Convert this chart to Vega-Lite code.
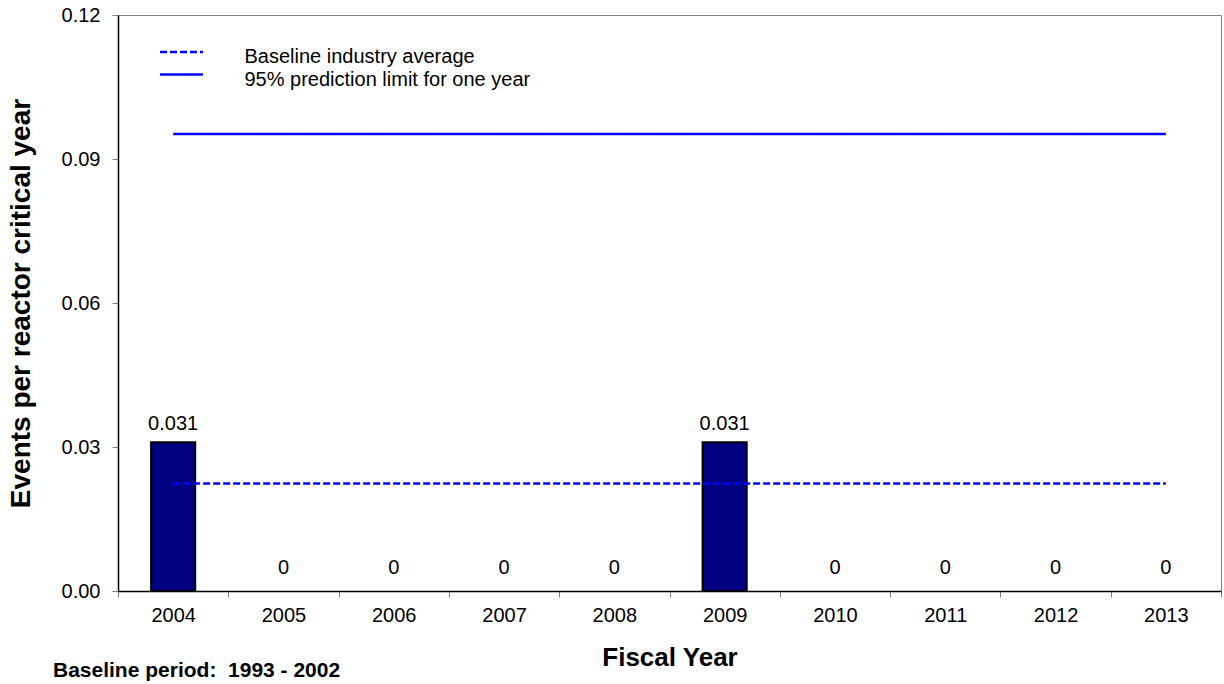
{
  "$schema": "https://vega.github.io/schema/vega-lite/v6.json",
  "width": 1103,
  "height": 576,
  "autosize": {"type": "none"},
  "padding": {"left": 118, "top": 15, "right": 3, "bottom": 93},
  "background": "white",
  "config": {
    "font": "Liberation Sans",
    "view": {"stroke": "#808080", "strokeWidth": 1}
  },
  "title": {
    "text": "Baseline period:\u00a0 1993 - 2002",
    "orient": "bottom",
    "anchor": "start",
    "frame": "group",
    "fontSize": 21,
    "fontWeight": "bold",
    "color": "black",
    "dx": -65,
    "offset": -10
  },
  "datasets": {
    "rates": [
      {"year": "2004", "rate": 0.031, "label": "0.031"},
      {"year": "2005", "rate": 0, "label": "0"},
      {"year": "2006", "rate": 0, "label": "0"},
      {"year": "2007", "rate": 0, "label": "0"},
      {"year": "2008", "rate": 0, "label": "0"},
      {"year": "2009", "rate": 0.031, "label": "0.031"},
      {"year": "2010", "rate": 0, "label": "0"},
      {"year": "2011", "rate": 0, "label": "0"},
      {"year": "2012", "rate": 0, "label": "0"},
      {"year": "2013", "rate": 0, "label": "0"}
    ],
    "lines": [
      {"series": "Baseline industry average", "value": 0.0224, "start": "2004", "end": "2013"},
      {"series": "95% prediction limit for one year", "value": 0.0952, "start": "2004", "end": "2013"}
    ]
  },
  "layer": [
    {
      "data": {"name": "rates"},
      "transform": [{"filter": "datum.rate > 0"}],
      "mark": {"type": "bar", "width": {"band": 0.4}, "fill": "#000080", "stroke": "black", "strokeWidth": 2},
      "encoding": {
        "x": {
          "field": "year", "type": "nominal",
          "scale": {"domain": ["2004","2005","2006","2007","2008","2009","2010","2011","2012","2013"], "paddingInner": 0, "paddingOuter": 0},
          "axis": {
            "title": "Fiscal Year",
            "labelAngle": 0,
            "tickBand": "extent",
            "labelFontSize": 20,
            "labelColor": "black",
            "labelPadding": 8,
            "tickSize": 6,
            "tickColor": "#808080",
            "domainColor": "black",
            "domainWidth": 1.5,
            "titleFontSize": 26,
            "titleFontWeight": "bold",
            "titleColor": "black",
            "titlePadding": 19
          }
        },
        "y": {
          "field": "rate", "type": "quantitative",
          "scale": {"domain": [0, 0.12], "nice": false},
          "axis": {
            "title": "Events per reactor critical year",
            "values": [0, 0.03, 0.06, 0.09, 0.12],
            "format": ".2f",
            "grid": false,
            "labelFontSize": 20,
            "labelColor": "black",
            "labelPadding": 12,
            "tickSize": 6,
            "tickColor": "#808080",
            "domainColor": "black",
            "domainWidth": 1.5,
            "titleFontSize": 28,
            "titleFontWeight": "bold",
            "titleColor": "black",
            "titleX": -97,
            "titleBaseline": "middle"
          }
        }
      }
    },
    {
      "data": {"name": "rates"},
      "transform": [{"filter": "datum.rate > 0"}],
      "mark": {"type": "text", "fontSize": 20, "color": "black", "baseline": "alphabetic", "dy": -12},
      "encoding": {
        "x": {"field": "year", "type": "nominal"},
        "y": {"field": "rate", "type": "quantitative"},
        "text": {"field": "label"}
      }
    },
    {
      "data": {"name": "rates"},
      "transform": [{"filter": "datum.rate == 0"}],
      "mark": {"type": "text", "fontSize": 20, "color": "black", "baseline": "alphabetic", "dy": -17},
      "encoding": {
        "x": {"field": "year", "type": "nominal"},
        "y": {"field": "rate", "type": "quantitative"},
        "text": {"field": "label"}
      }
    },
    {
      "data": {"name": "lines"},
      "mark": {"type": "rule", "color": "#0000ff", "strokeWidth": 2.5},
      "encoding": {
        "x": {"field": "start", "type": "nominal"},
        "x2": {"field": "end"},
        "y": {"field": "value", "type": "quantitative"},
        "strokeDash": {
          "field": "series", "type": "nominal",
          "scale": {"domain": ["Baseline industry average", "95% prediction limit for one year"], "range": [[7, 3], [1, 0]]},
          "legend": {
            "orient": "none",
            "legendX": 53.5,
            "legendY": 32,
            "title": null,
            "padding": 0,
            "symbolType": "M-4.3,0H4.3",
            "symbolSize": 100,
            "symbolStrokeWidth": 2.5,
            "symbolStrokeColor": "#0000ff",
            "labelFontSize": 20,
            "labelColor": "black",
            "labelLimit": 0,
            "labelOffset": 53,
            "rowPadding": 2.5,
            "encode": {"symbols": {"update": {"y": {"value": 5}}}}
          }
        }
      }
    }
  ]
}
